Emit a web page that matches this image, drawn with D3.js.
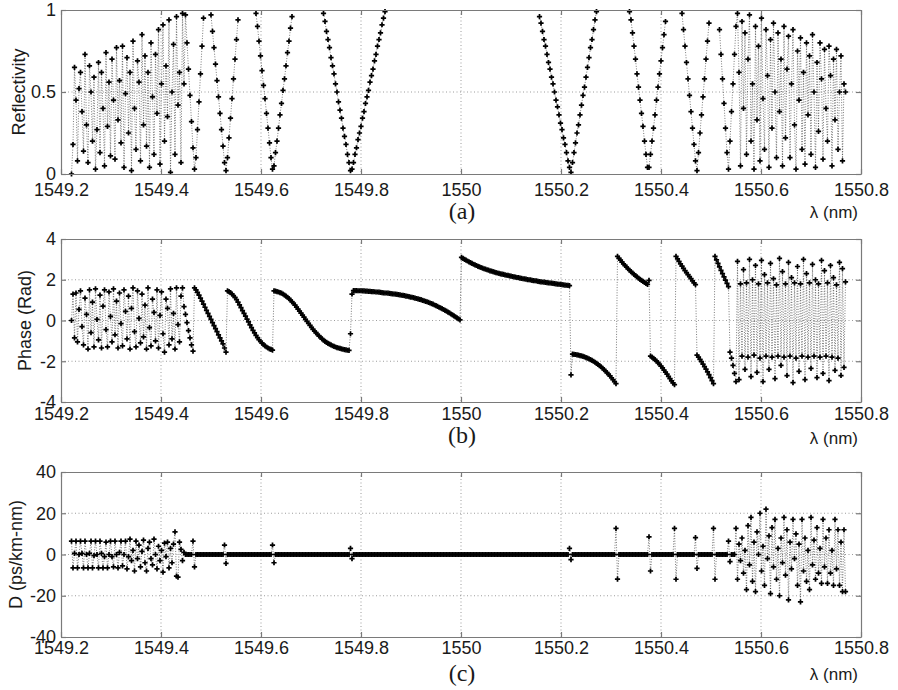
<!DOCTYPE html>
<html>
<head>
<meta charset="utf-8">
<script src="https://cdn.jsdelivr.net/npm/d3@7"></script>
<style>
  body { margin: 0; background: #fff; }
  text { font-family: "Liberation Sans", Arial, sans-serif; fill: #1a1a1a; }
  .grid { stroke: #333; stroke-width: 0.8; stroke-dasharray: 1 2.5; opacity: 0.6; }
  .trace { fill: none; stroke: #000; stroke-width: 0.7; stroke-dasharray: 1 1.6; opacity: 0.75; }
</style>
</head>
<body>
<div id="myPlot" style="width:898px;height:690px"></div>
<script>
// Set Dimensions
const xSize = 898;
const ySize = 690;

// Wavelength sampling grid (nm), same for the three panels
const lambdaStart = 1549.221;
const lambdaStep = 0.003;
const nSamples = 517;
const wavelength = d3.range(nSamples).map(i => +(lambdaStart + i * lambdaStep).toFixed(3));

// __ = sample above 1, outside the plotted range of panel (a)
const __ = null;

// (a) reflectivity
const reflectivity = [
  0, .18, .65, .45, .08, .52, .62, .38, .14, .73,
  .3, .07, .66, .5, .2, .59, .03, .27, .68, .13,
  .62, .4, .05, .74, .29, .56, .11, .7, .45, .09,
  .77, .33, .57, .19, .78, .04, .49, .71, .25, .62,
  .02, .81, .4, .15, .69, .56, .08, .85, .3, .72,
  .17, .62, .04, .8, .47, .12, .73, .37, .88, .06,
  .55, .91, .2, .66, .35, .94, .01, .5, .79, .12,
  .96, .42, .62, .07, .98, .55, .97, .8, .64, .48,
  .32, .16, .03, .1, .27, .44, .61, .78, .95, __,
  __, __, __, .97, .87, .77, .67, .57, .47, .37,
  .27, .17, .07, .02, .1, .22, .34, .46, .58, .7,
  .82, .94, __, __, __, __, __, __, __, __,
  __, __, __, .98, .9, .81, .72, .63, .54, .46,
  .37, .28, .19, .1, .03, .05, .13, .2, .28, .36,
  .43, .51, .58, .66, .74, .81, .89, .96, __, __,
  __, __, __, __, __, __, __, __, __, __,
  __, __, __, __, __, __, __, __, .98, .93,
  .87, .82, .77, .71, .66, .61, .55, .5, .44, .39,
  .34, .28, .23, .18, .12, .07, .02, .03, .07, .12,
  .16, .21, .25, .29, .34, .38, .43, .47, .51, .56,
  .6, .64, .69, .73, .78, .82, .86, .91, .95, .99,
  __, __, __, __, __, __, __, __, __, __,
  __, __, __, __, __, __, __, __, __, __,
  __, __, __, __, __, __, __, __, __, __,
  __, __, __, __, __, __, __, __, __, __,
  __, __, __, __, __, __, __, __, __, __,
  __, __, __, __, __, __, __, __, __, __,
  __, __, __, __, __, __, __, __, __, __,
  __, __, __, __, __, __, __, __, __, __,
  __, __, __, __, __, __, __, __, __, __,
  __, __, __, __, __, __, __, __, __, __,
  __, __, .96, .92, .87, .82, .78, .73, .68, .64,
  .59, .55, .5, .45, .41, .36, .31, .27, .22, .18,
  .13, .08, .04, .01, .07, .13, .19, .25, .3, .36,
  .42, .48, .53, .59, .65, .71, .77, .82, .88, .94,
  .99, __, __, __, __, __, __, __, __, __,
  __, __, __, __, __, __, __, __, __, __,
  __, __, .99, .94, .86, .78, .7, .61, .53, .45,
  .37, .29, .2, .12, .04, .04, .12, .2, .28, .36,
  .45, .53, .61, .69, .77, .85, .93, __, __, __,
  __, __, __, __, __, __, __, .98, .88, .78,
  .68, .58, .48, .38, .28, .18, .08, .02, .13, .25,
  .36, .47, .58, .7, .81, .92, __, __, __, __,
  __, __, .88, .73, .58, .43, .28, .13, .03, .2,
  .38, .55, .73, .9, .98, .62, .05, .93, .4, .86,
  .12, .7, .97, .2, .55, .03, .9, .33, .78, .08,
  .95, .46, .15, .88, .6, .04, .82, .28, .92, .5,
  .1, .86, .38, .7, .05, .9, .22, .64, .84, .1,
  .55, .88, .3, .03, .75, .45, .83, .15, .62, .06,
  .8, .36, .72, .12, .85, .5, .04, .68, .26, .8,
  .58, .09, .76, .4, .2, .78, .6, .05, .7, .33,
  .76, .15, .5, .72, .08, .55, .5
];

// (b) phase in rad
const phase = [
  0, 1.3, -.85, 1.35, -1.05, .55, 1.45, -.3, -1.2, 1.1,
  .3, -1.4, 1.5, -.6, .9, -1.3, 1.55, .05, -.95, 1.25,
  -1.35, .7, 1.5, -.45, -1.3, 1.4, .2, -1.05, 1.55, -.7,
  .95, -1.35, 1.35, -.15, -1.25, 1.5, .45, -.9, 1.2, -1.4,
  .6, 1.6, -.55, -1.3, 1.45, .1, -1.1, 1.3, -.8, .75,
  -1.4, 1.6, -.35, -1.25, 1.05, .4, -1, 1.5, -1.35, .25,
  1.4, -.65, -1.55, 1.05, .6, -1.2, 1.55, -.9, .35, -1.4,
  1.6, -.2, -1.05, 1.2, 1.6, .68, .3, -.1, -.5, -.85,
  -1.2, -1.5, 1.6, 1.5, 1.38, 1.25, 1.1, .95, .8, .65,
  .5, .35, .2, .05, -.1, -.25, -.4, -.55, -.7, -.85,
  -1, -1.15, -1.35, -1.55, 1.45, 1.42, 1.37, 1.3, 1.22, 1.13,
  1.02, .9, .77, .63, .49, .35, .21, .07, -.07, -.21,
  -.35, -.48, -.61, -.73, -.84, -.94, -1.03, -1.11, -1.18, -1.25,
  -1.3, -1.35, -1.39, -1.42, -1.45, 1.45, 1.44, 1.42, 1.4, 1.37,
  1.34, 1.3, 1.25, 1.2, 1.14, 1.07, 1, .92, .84, .75,
  .66, .56, .46, .36, .26, .16, .06, -.04, -.14, -.24,
  -.34, -.43, -.52, -.6, -.68, -.76, -.83, -.9, -.96, -1.02,
  -1.07, -1.12, -1.16, -1.2, -1.24, -1.27, -1.3, -1.33, -1.35, -1.37,
  -1.39, -1.41, -1.43, -1.44, -1.46, -1.47, -.65, 1.3, 1.47, 1.47,
  1.47, 1.46, 1.46, 1.46, 1.45, 1.45, 1.44, 1.44, 1.43, 1.43,
  1.42, 1.42, 1.41, 1.4, 1.4, 1.39, 1.38, 1.37, 1.36, 1.35,
  1.35, 1.34, 1.33, 1.32, 1.31, 1.3, 1.29, 1.28, 1.27, 1.26,
  1.24, 1.23, 1.22, 1.2, 1.19, 1.17, 1.15, 1.14, 1.12, 1.1,
  1.08, 1.06, 1.04, 1.02, .99, .97, .94, .92, .89, .86,
  .83, .8, .76, .73, .69, .65, .62, .58, .54, .5,
  .46, .41, .37, .32, .28, .23, .18, .13, .08, .03,
  3.1, 3.05, 3, 2.96, 2.92, 2.88, 2.84, 2.8, 2.76, 2.73,
  2.7, 2.66, 2.63, 2.6, 2.57, 2.54, 2.52, 2.49, 2.47, 2.44,
  2.42, 2.4, 2.37, 2.35, 2.33, 2.31, 2.29, 2.28, 2.26, 2.24,
  2.22, 2.21, 2.19, 2.18, 2.16, 2.14, 2.13, 2.11, 2.1, 2.08,
  2.07, 2.05, 2.04, 2.03, 2.01, 2, 1.99, 1.97, 1.96, 1.95,
  1.94, 1.92, 1.91, 1.9, 1.89, 1.88, 1.87, 1.86, 1.85, 1.84,
  1.83, 1.82, 1.81, 1.8, 1.79, 1.78, 1.77, 1.76, 1.75, 1.74,
  1.73, 1.72, 1.71, -2.67, -1.65, -1.66, -1.67, -1.69, -1.7, -1.72,
  -1.74, -1.76, -1.79, -1.82, -1.85, -1.88, -1.92, -1.96, -2, -2.05,
  -2.1, -2.15, -2.21, -2.27, -2.34, -2.41, -2.48, -2.56, -2.64, -2.72,
  -2.81, -2.9, -3, -3.1, 3.15, 3.05, 2.96, 2.87, 2.78, 2.7,
  2.62, 2.54, 2.47, 2.4, 2.33, 2.26, 2.2, 2.14, 2.08, 2.02,
  1.97, 1.92, 1.87, 1.82, 1.77, 1.97, -1.75, -1.8, -1.86, -1.92,
  -1.99, -2.07, -2.15, -2.24, -2.33, -2.43, -2.53, -2.63, -2.74, -2.85,
  -2.96, -3.06, -3.15, 3.15, 3.02, 2.9, 2.78, 2.67, 2.56, 2.45,
  2.35, 2.25, 2.15, 2.05, 1.95, 1.85, 1.76, -1.7, -1.8, -1.91,
  -2.02, -2.14, -2.26, -2.39, -2.52, -2.66, -2.8, -2.95, -3.1, 3.15,
  2.97, 2.8, 2.63, 2.46, 2.3, 2.14, 1.98, 1.82, 1.66, -1.55,
  -1.85, -2.2, -2.6, -3, 2.9, -2.9, 1.8, -1.75, 2.5, -2.4,
  1.85, -1.8, 3, -2.75, 2, -1.7, 2.7, -2.55, 1.8, -1.85,
  2.95, -3, 2.25, -1.75, 1.85, -2.4, 2.8, -1.8, 2.05, -2.85,
  1.75, -1.75, 3.05, -2.2, 2.4, -1.8, 1.8, -2.7, 2.85, -1.75,
  2.1, -3.05, 1.85, -1.85, 2.65, -2.5, 1.8, -1.75, 3, -2.9,
  2.3, -1.8, 1.85, -2.35, 2.75, -1.75, 2, -2.8, 1.8, -1.8,
  2.95, -2.6, 2.45, -1.75, 1.85, -2.95, 2.7, -1.8, 2.1, -2.45,
  1.75, -1.85, 2.85, -2.7, 2.55, -2.3, 1.9
];

// (c) dispersion in ps/km-nm
const dispersion = [
  6.5, -6.5, .5, 6.5, -6.5, 0, 6.5, .5, -6.5, 6.5,
  0, -6.5, .5, 6.5, -6.5, -.5, 6.5, 0, -6.5, 6.5,
  .5, -6.5, -1, 6, -6.5, 0, 6.5, -1, -6, 6.5,
  0, -6.5, 1, 6.5, -5.5, 0, 6.5, -7, -1, 7.5,
  -3, 2, -8, 6.5, -2, 4.5, -6, 1.5, 7, -4,
  -8, 3, 6, -2, -5, 7.5, 0, -7, 4, -3,
  2, -8.5, 5.5, -1, 6, -6.5, 3, -4, 5, 11,
  -10.5, -11, 6, 2.5, -3, 1, 0, 0, 0, 0,
  0, 6.5, -6, 0, 0, 0, 0, 0, 0, 0,
  0, 0, 0, 0, 0, 0, 0, 0, 0, 0,
  0, 0, 4.6, -4.3, 0, 0, 0, 0, 0, 0,
  0, 0, 0, 0, 0, 0, 0, 0, 0, 0,
  0, 0, 0, 0, 0, 0, 0, 0, 0, 0,
  0, 0, 0, 0, 4.6, -4, 0, 0, 0, 0,
  0, 0, 0, 0, 0, 0, 0, 0, 0, 0,
  0, 0, 0, 0, 0, 0, 0, 0, 0, 0,
  0, 0, 0, 0, 0, 0, 0, 0, 0, 0,
  0, 0, 0, 0, 0, 0, 0, 0, 0, 0,
  0, 0, 0, 0, 0, 0, 3, -2, 0, 0,
  0, 0, 0, 0, 0, 0, 0, 0, 0, 0,
  0, 0, 0, 0, 0, 0, 0, 0, 0, 0,
  0, 0, 0, 0, 0, 0, 0, 0, 0, 0,
  0, 0, 0, 0, 0, 0, 0, 0, 0, 0,
  0, 0, 0, 0, 0, 0, 0, 0, 0, 0,
  0, 0, 0, 0, 0, 0, 0, 0, 0, 0,
  0, 0, 0, 0, 0, 0, 0, 0, 0, 0,
  0, 0, 0, 0, 0, 0, 0, 0, 0, 0,
  0, 0, 0, 0, 0, 0, 0, 0, 0, 0,
  0, 0, 0, 0, 0, 0, 0, 0, 0, 0,
  0, 0, 0, 0, 0, 0, 0, 0, 0, 0,
  0, 0, 0, 0, 0, 0, 0, 0, 0, 0,
  0, 0, 0, 0, 0, 0, 0, 0, 0, 0,
  0, 0, 0, 0, 0, 0, 0, 0, 0, 0,
  0, 0, 3, -2.5, 0, 0, 0, 0, 0, 0,
  0, 0, 0, 0, 0, 0, 0, 0, 0, 0,
  0, 0, 0, 0, 0, 0, 0, 0, 0, 0,
  0, 0, 0, 12.7, -11.9, 0, 0, 0, 0, 0,
  0, 0, 0, 0, 0, 0, 0, 0, 0, 0,
  0, 0, 0, 0, 0, 8.6, -8, 0, 0, 0,
  0, 0, 0, 0, 0, 0, 0, 0, 0, 0,
  0, 0, 12.7, -12, 0, 0, 0, 0, 0, 0,
  0, 0, 0, 0, 0, 0, 8.2, -6.7, 0, 0,
  0, 0, 0, 0, 0, 0, 0, 0, 12.7, -12,
  0, 0, 0, 0, 0, 0, 0, 0, 6.5, -3.5,
  0, 0, 0, 12.7, -12, 5, -3, 8, -9, 2,
  -17, 14, -5, 18, -13, 6, -18, 11, 0, 20,
  -8, 4, -15, 22, -2, 9, -19, 13, -6, 17,
  -12, 3, -20, 8, -4, 18, -10, 12, -22, 6,
  -7, 17, -2, 10, -15, 5, -23, 17, -8, 8,
  -13, 2, -17, 18, -5, 7, -12, 13, -9, 3,
  -14, 17, -6, 8, -14, 12, -9, 2, -15, 17,
  -7, 12, -15, 6, -18, 12, -18
];

// Ticks
const xTicks = [1549.2, 1549.4, 1549.6, 1549.8, 1550, 1550.2, 1550.4, 1550.6, 1550.8];
const xTickLabels = ["1549.2", "1549.4", "1549.6", "1549.8", "1550", "1550.2", "1550.4", "1550.6", "1550.8"];
const reflTicks = [0, 0.5, 1];
const reflTickLabels = ["0", "0.5", "1"];
const phaseTicks = [-4, -2, 0, 2, 4];
const phaseTickLabels = ["-4", "-2", "0", "2", "4"];
const dispTicks = [-40, -20, 0, 20, 40];
const dispTickLabels = ["-40", "-20", "0", "20", "40"];

// Panel layout (pixel positions)
const panels = [
  { values: reflectivity, domain: [0, 1], ticks: reflTicks, tickLabels: reflTickLabels,
    yTitle: "Reflectivity", caption: "(a)", top: 10, bottom: 174,
    xLabelY: 196, yTitleX: 25, captionY: 219, unitY: 218 },
  { values: phase, domain: [-4, 4], ticks: phaseTicks, tickLabels: phaseTickLabels,
    yTitle: "Phase (Rad)", caption: "(b)", top: 239, bottom: 402,
    xLabelY: 420, yTitleX: 31, captionY: 443, unitY: 444 },
  { values: dispersion, domain: [-40, 40], ticks: dispTicks, tickLabels: dispTickLabels,
    yTitle: "D (ps/km-nm)", caption: "(c)", top: 472, bottom: 637,
    xLabelY: 654, yTitleX: 22, captionY: 681, unitY: 680 }
];

const svg = d3.select("#myPlot")
  .append("svg")
  .attr("width", xSize)
  .attr("height", ySize);

// X Axis (shared)
const x = d3.scaleLinear()
  .domain([1549.2, 1550.8])
  .range([61, 861]);

function drawPanel(p) {
  const y = d3.scaleLinear()
    .domain(p.domain)
    .range([p.bottom, p.top]);

  const g = svg.append("g");

  // Grid
  g.append("g")
    .selectAll("line")
    .data(xTicks.slice(1, -1)).enter()
    .append("line")
    .attr("class", "grid")
    .attr("x1", d => x(d)).attr("x2", d => x(d))
    .attr("y1", p.top).attr("y2", p.bottom);

  g.append("g")
    .selectAll("line")
    .data(p.ticks.slice(1, -1)).enter()
    .append("line")
    .attr("class", "grid")
    .attr("x1", x.range()[0]).attr("x2", x.range()[1])
    .attr("y1", d => y(d)).attr("y2", d => y(d));

  // Data
  const points = wavelength.map((w, i) => ({ w: w, v: p.values[i] }));

  const line = d3.line()
    .defined(d => d.v != null)
    .x(d => x(d.w))
    .y(d => y(d.v));

  g.append("path")
    .datum(points)
    .attr("class", "trace")
    .attr("d", line);

  g.append("g")
    .selectAll("path")
    .data(points.filter(d => d.v != null)).enter()
    .append("path")
    .attr("d", d3.symbol(d3.symbolCross, 15))
    .attr("transform", d => "translate(" + x(d.w) + "," + y(d.v) + ")")
    .style("fill", "#000");

  // Axes (box with inward ticks)
  const axisColor = "#7a7a7a";

  const bottom = g.append("g")
    .attr("transform", "translate(0," + p.bottom + ")")
    .call(d3.axisBottom(x).tickValues(xTicks).tickSize(-5).tickSizeOuter(0)
      .tickFormat((d, i) => xTickLabels[i]));
  bottom.selectAll("text")
    .attr("dy", null)
    .attr("y", p.xLabelY - p.bottom);

  g.append("g")
    .attr("transform", "translate(0," + p.top + ")")
    .call(d3.axisTop(x).tickValues(xTicks).tickSize(-5).tickSizeOuter(0).tickFormat(""));

  const left = g.append("g")
    .attr("transform", "translate(" + x.range()[0] + ",0)")
    .call(d3.axisLeft(y).tickValues(p.ticks).tickSize(-5).tickSizeOuter(0).tickPadding(5)
      .tickFormat((d, i) => p.tickLabels[i]));
  left.selectAll("text").attr("dy", "0.33em");

  g.append("g")
    .attr("transform", "translate(" + x.range()[1] + ",0)")
    .call(d3.axisRight(y).tickValues(p.ticks).tickSize(-5).tickSizeOuter(0).tickFormat(""));

  g.selectAll(".domain, .tick line")
    .attr("stroke", axisColor)
    .attr("stroke-width", 1.2);
  g.selectAll(".tick text")
    .attr("font-size", null)
    .style("font-size", "18px")
    .style("fill", "#1a1a1a");
  g.selectAll("g").attr("font-family", null).attr("font-size", null);

  // Labels
  svg.append("text")
    .attr("transform", "translate(" + p.yTitleX + "," + ((p.top + p.bottom) / 2) + ") rotate(-90)")
    .attr("text-anchor", "middle")
    .style("font-size", "18px")
    .text(p.yTitle);

  svg.append("text")
    .attr("x", 462)
    .attr("y", p.captionY)
    .attr("text-anchor", "middle")
    .style("font-family", "'Liberation Serif', 'Times New Roman', serif")
    .style("font-size", "24px")
    .text(p.caption);

  svg.append("text")
    .attr("x", 858)
    .attr("y", p.unitY)
    .attr("text-anchor", "end")
    .style("font-size", "17px")
    .text("\u03bb (nm)");
}

panels.forEach(drawPanel);
</script>
</body>
</html>
